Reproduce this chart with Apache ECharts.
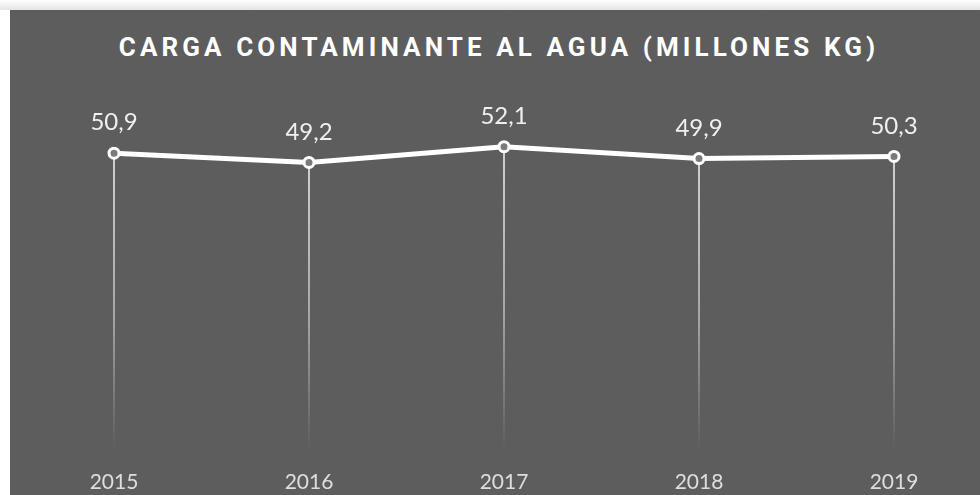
<!DOCTYPE html>
<html>
<head>
<meta charset="utf-8">
<script src="https://cdn.jsdelivr.net/npm/echarts@6/dist/echarts.min.js"></script>
<style>
  html, body { margin: 0; padding: 0; background: #fff; }
  #wrap { position: relative; width: 980px; height: 495px; overflow: hidden; }
  .topbar { position: absolute; left: 0; top: 0; width: 980px; height: 10px; background: linear-gradient(#ffffff, #e4e4e4); }
  .panel { position: absolute; left: 10px; top: 10px; width: 970px; height: 485px; background: #5d5d5d; }
  .title { position: absolute; left: 14px; top: 30px; width: 970px; text-align: center;
    font-family: Roboto, sans-serif; font-weight: 700; font-size: 26px; line-height: 34px;
    letter-spacing: 4.1px; color: #fff; }
  #chart { position: absolute; left: 0; top: 0; width: 980px; height: 495px; }
</style>
</head>
<body>
<div id="wrap">
  <div class="topbar"></div>
  <div class="panel"></div>
  <div class="title">CARGA CONTAMINANTE AL AGUA (MILLONES KG)</div>
  <div id="chart"></div>
</div>
<script>
  // datos
  const years = ['2015', '2016', '2017', '2018', '2019'];
  const carga = [50.9, 49.2, 52.1, 49.9, 50.3];
  const yMin = -4;
  const yMax = 60;

  const chart = echarts.init(document.getElementById('chart'));

  // lineas verticales que se desvanecen hacia abajo
  function dropLine(params, api) {
    const top = api.coord([api.value(0), api.value(1)]);
    const bottom = api.coord([api.value(0), yMin]);
    return {
      type: 'line',
      shape: { x1: top[0], y1: top[1], x2: bottom[0], y2: bottom[1] },
      style: {
        lineWidth: 1.5,
        stroke: new echarts.graphic.LinearGradient(0, top[1], 0, bottom[1], [
          { offset: 0, color: 'rgba(255,255,255,0.95)' },
          { offset: 0.55, color: 'rgba(255,255,255,0.6)' },
          { offset: 1, color: 'rgba(255,255,255,0)' }
        ], true)
      }
    };
  }

  const option = {
    backgroundColor: 'transparent',
    animation: false,
    grid: { left: 114, right: 86, top: 104, bottom: 45 },
    xAxis: {
      type: 'category',
      data: years,
      boundaryGap: false,
      axisLine: { show: false },
      axisTick: { show: false },
      splitLine: { show: false },
      axisLabel: {
        color: '#dedede',
        fontFamily: 'Lato',
        fontSize: 21,
        margin: 22
      }
    },
    yAxis: {
      type: 'value',
      min: yMin,
      max: yMax,
      show: false
    },
    series: [
      {
        type: 'custom',
        renderItem: dropLine,
        data: years.map((y, i) => [i, carga[i]]),
        z: 1
      },
      {
        type: 'line',
        data: carga,
        z: 3,
        symbol: 'circle',
        symbolSize: 10,
        lineStyle: { color: '#fff', width: 5 },
        itemStyle: { color: '#7a7a7a', borderColor: '#fff', borderWidth: 3 },
        label: {
          show: true,
          position: 'top',
          distance: 12,
          color: '#f0f0f0',
          fontFamily: 'Lato',
          fontSize: 24,
          formatter: p => String(p.value).replace('.', ',')
        }
      }
    ]
  };

  chart.setOption(option);
</script>
</body>
</html>
